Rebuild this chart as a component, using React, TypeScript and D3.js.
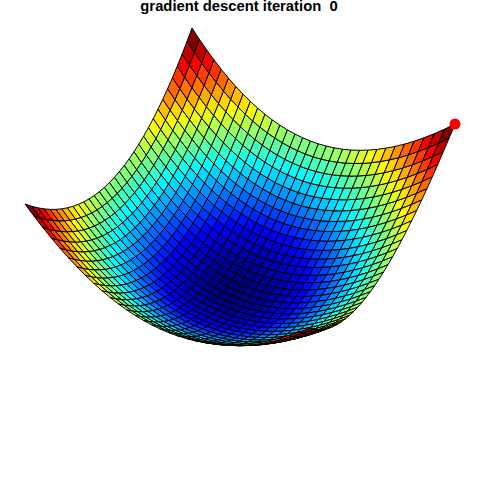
import React, { useMemo } from "react";
import * as d3 from "d3";

const gridX = [-1,-0.9375,-0.875,-0.8125,-0.75,-0.6875,-0.625,-0.5625,-0.5,-0.4375,-0.375,-0.3125,-0.25,-0.1875,-0.125,-0.0625,0,0.0625,0.125,0.1875,0.25,0.3125,0.375,0.4375,0.5,0.5625,0.625,0.6875,0.75,0.8125,0.875,0.9375,1];
const gridY = gridX;
const lossX = [1,0.8789,0.7656,0.6602,0.5625,0.4727,0.3906,0.3164,0.25,0.1914,0.1406,0.0977,0.0625,0.0352,0.0156,0.0039,0,0.0039,0.0156,0.0352,0.0625,0.0977,0.1406,0.1914,0.25,0.3164,0.3906,0.4727,0.5625,0.6602,0.7656,0.8789,1];
const lossY = lossX;
const jetStops = ["#00007F","#0000FF","#007FFF","#00FFFF","#7FFF7F","#FFFF00","#FF7F00","#FF0000","#7F0000"];
const startPoint = { x: 1, y: 1, z: 2 };
const titleText = "gradient descent iteration  0";

// image anchors of the camera: the four rim corners and the bowl's floor
const rim = [[25, 204], [192, 28], [455, 124], [310, 328]];
const floor = [235, 290];
const zPersp = 0.1;

function makeCamera() {
  const [p0, p1, p2, p3] = rim;
  const dx1 = p1[0]-p2[0], dx2 = p3[0]-p2[0], dx3 = p0[0]-p1[0]+p2[0]-p3[0];
  const dy1 = p1[1]-p2[1], dy2 = p3[1]-p2[1], dy3 = p0[1]-p1[1]+p2[1]-p3[1];
  const det = dx1*dy2-dx2*dy1;
  const g = (dx3*dy2-dx2*dy3)/det, h = (dx1*dy3-dx3*dy1)/det;
  const a = p1[0]-p0[0]+g*p1[0], b = p3[0]-p0[0]+h*p3[0], c = p0[0];
  const d = p1[1]-p0[1]+g*p1[1], e = p3[1]-p0[1]+h*p3[1], f = p0[1];
  const wc = 1+(g+h)/2;
  const xc = (a/2+b/2+c)/wc, yc = (d/2+e/2+f)/wc;
  const Vw = zPersp*wc;
  const Vx = (floor[0]*(1+zPersp)-xc)*wc, Vy = (floor[1]*(1+zPersp)-yc)*wc;
  const zu = d3.scaleLinear().domain([0, 2]).range([1, 0]);
  const uS = d3.scaleLinear().domain([-1, 1]).range([0, 1]);
  return (x: number, y: number, z: number) => {
    const u = uS(y), v = uS(x), k = zu(z);
    const w = g*u+h*v+1+k*Vw;
    return { px: (a*u+b*v+c+k*Vx)/w, py: (d*u+e*v+f+k*Vy)/w, w };
  };
}

export default function App() {
  const { cells, pt } = useMemo(() => {
    const cam = makeCamera();
    const raw: { d: string; z: number; w: number }[] = [];
    for (let i = 0; i < gridX.length-1; i++) for (let j = 0; j < gridY.length-1; j++) {
      const idx = [[i,j],[i+1,j],[i+1,j+1],[i,j+1]];
      const zs = idx.map(([a,b]) => lossX[a]+lossY[b]);
      const ps = idx.map(([a,b],k) => cam(gridX[a], gridY[b], zs[k]));
      raw.push({
        d: "M"+ps.map(p => p.px.toFixed(2)+","+p.py.toFixed(2)).join("L")+"Z",
        z: d3.mean(zs)!,
        w: d3.mean(ps, p => p.w)!,
      });
    }
    const [zMin, zMax] = d3.extent(raw, c => c.z) as [number, number];
    const color = d3.scaleLinear<string>()
      .domain(d3.range(jetStops.length).map(i => zMin+i*(zMax-zMin)/(jetStops.length-1)))
      .range(jetStops).interpolate(d3.interpolateRgb);
    raw.sort((p, q) => q.w-p.w);
    return { cells: raw.map(c => ({ d: c.d, fill: color(c.z) })), pt: cam(startPoint.x, startPoint.y, startPoint.z) };
  }, []);
  return (
    <svg width={480} height={480} style={{ position: "absolute", left: 0, top: 0, background: "#fff" }}>
      <text x={239} y={10.5} textAnchor="middle" fontFamily="Liberation Sans" fontWeight="bold" fontSize={14.8} xmlSpace="preserve" style={{ whiteSpace: "pre" }}>{titleText}</text>
      {cells.map((c, i) => <path key={i} d={c.d} fill={c.fill} stroke="#000" strokeWidth={1} strokeLinejoin="round" />)}
      <circle cx={pt.px} cy={pt.py} r={5.5} fill="#FF0000" />
    </svg>
  );
}
